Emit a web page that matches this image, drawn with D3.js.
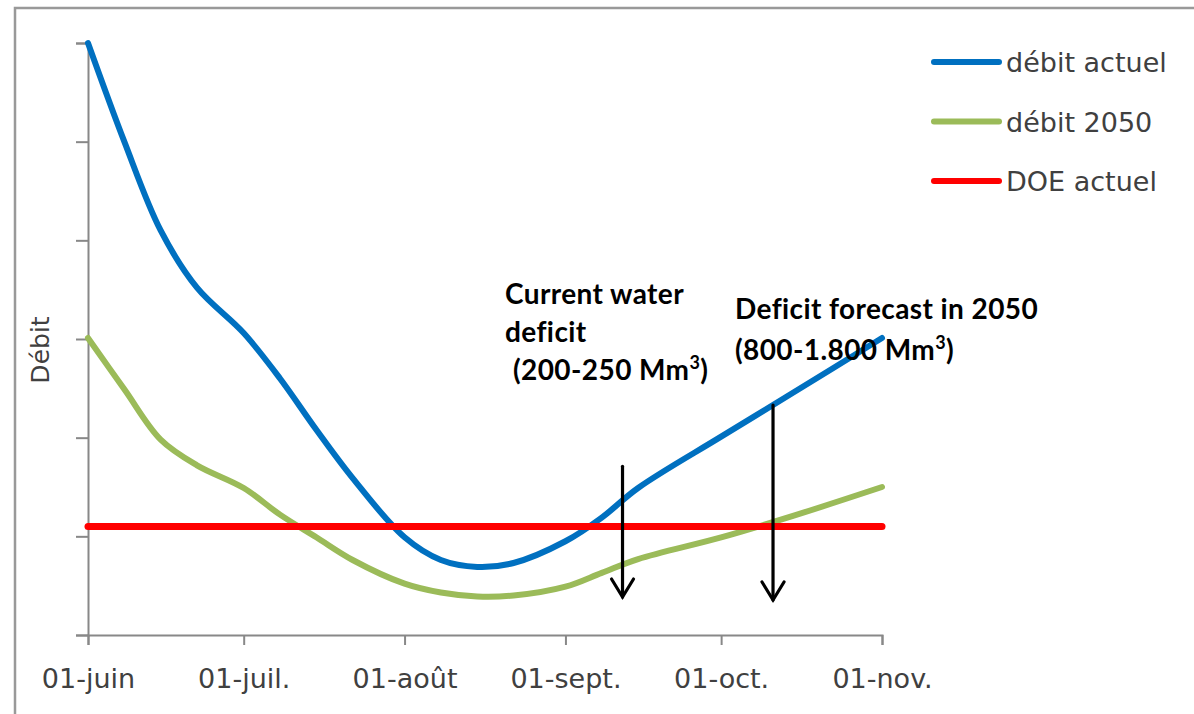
<!DOCTYPE html>
<html>
<head>
<meta charset="utf-8">
<script src="https://cdn.jsdelivr.net/npm/d3@7"></script>
<style>
  html, body { margin: 0; padding: 0; background: #fff; }
  svg { display: block; }
</style>
</head>
<body>
<svg id="chart" width="1194" height="714"></svg>
<script>
// ---- data ----
const dates = ["2013-06-01","2013-06-08","2013-06-15","2013-06-22","2013-07-01","2013-07-08",
               "2013-07-15","2013-07-22","2013-08-01","2013-08-08","2013-08-15","2013-08-22",
               "2013-09-01","2013-09-08","2013-09-15","2013-10-01","2013-10-15","2013-11-01"];
const debitActuel = [6.00, 5.00, 4.10, 3.52, 3.06, 2.60, 2.08, 1.59, 0.99, 0.76, 0.69, 0.73,
                     0.95, 1.19, 1.49, 2.01, 2.46, 3.01];
const debit2050   = [3.01, 2.49, 1.98, 1.72, 1.49, 1.22, 0.99, 0.76, 0.52, 0.43, 0.39, 0.40,
                     0.49, 0.63, 0.77, 0.99, 1.21, 1.50];
const doeActuel   = [1.10, 1.10];
const doeDates    = ["2013-06-01","2013-11-01"];
const tickDates   = ["2013-06-01","2013-07-01","2013-08-01","2013-09-01","2013-10-01","2013-11-01"];
const tickLabels  = ["01-juin","01-juil.","01-août","01-sept.","01-oct.","01-nov."];
const yTicks      = [0, 1, 2, 3, 4, 5, 6];
const seriesNames = ["débit actuel", "débit 2050", "DOE actuel"];
const seriesColors = ["#0070C0", "#9BBB59", "#FF0000"];
// deficit arrows: date, from value, to value
const arrowDates = ["2013-09-12", "2013-10-11"];
const arrowFrom  = [1.71, 2.33];
const arrowTo    = [0.385, 0.355];

const parse = d3.utcParse("%Y-%m-%d");
const baseFont = "'DejaVu Sans', Verdana, sans-serif";

const svg = d3.select("#chart");

// outer frame
svg.append("rect")
  .attr("x", 15).attr("y", 8)
  .attr("width", 1200).attr("height", 720)
  .attr("fill", "none").attr("stroke", "#999").attr("stroke-width", 2.5);

const x = d3.scaleUtc()
  .domain([parse(tickDates[0]), parse(tickDates[tickDates.length - 1])])
  .range([88, 882]);
const y = d3.scaleLinear().domain([0, 6]).range([635, 43]);

// axes
const axisColor = "#888";
const xAxis = d3.axisBottom(x)
  .tickValues(tickDates.map(parse))
  .tickFormat((d, i) => tickLabels[i])
  .tickSize(10).tickPadding(24);
const gx = svg.append("g").attr("transform", "translate(0,635)").call(xAxis);
gx.attr("font-family", baseFont).attr("font-size", 27);
gx.select(".domain").attr("stroke", axisColor).attr("stroke-width", 2);
gx.selectAll(".tick line").attr("stroke", axisColor).attr("stroke-width", 2);
gx.selectAll(".tick text").attr("fill", "#404040");

const yAxis = d3.axisLeft(y).tickValues(yTicks).tickFormat("").tickSize(12);
const gy = svg.append("g").attr("transform", "translate(88,0)").call(yAxis);
gy.select(".domain").attr("stroke", axisColor).attr("stroke-width", 2);
gy.selectAll(".tick line").attr("stroke", axisColor).attr("stroke-width", 2);

// y title
svg.append("text")
  .attr("transform", "translate(49,350) rotate(-90)")
  .attr("text-anchor", "middle")
  .attr("font-family", baseFont)
  .attr("font-size", 25).attr("fill", "#404040")
  .text("Débit");

// series
const line = d3.line()
  .x(d => x(d[0])).y(d => y(d[1]))
  .curve(d3.curveCatmullRom.alpha(0.5));

const series = [
  dates.map((d, i) => [parse(d), debitActuel[i]]),
  dates.map((d, i) => [parse(d), debit2050[i]]),
  doeDates.map((d, i) => [parse(d), doeActuel[i]])
];
const widths = [6, 6, 7];

series.forEach((s, i) => {
  svg.append("path")
    .datum(s)
    .attr("d", line)
    .attr("fill", "none")
    .attr("stroke", seriesColors[i])
    .attr("stroke-width", widths[i])
    .attr("stroke-linecap", "round")
    .attr("stroke-linejoin", "round");
});

// legend
const legend = svg.append("g").attr("font-family", baseFont).attr("font-size", 27);
seriesNames.forEach((name, i) => {
  const ly = 62 + i * 59.5;
  legend.append("line")
    .attr("x1", 934).attr("x2", 999).attr("y1", ly).attr("y2", ly)
    .attr("stroke", seriesColors[i]).attr("stroke-width", 6)
    .attr("stroke-linecap", "round");
  legend.append("text")
    .attr("x", 1006).attr("y", ly + 10)
    .attr("fill", "#404040")
    .text(name);
});

// arrows
arrowDates.forEach((d, i) => {
  const ax = x(parse(d));
  const y1 = y(arrowFrom[i]), y2 = y(arrowTo[i]);
  const g = svg.append("g")
    .attr("stroke", "#000").attr("stroke-width", 3.2).attr("fill", "none")
    .attr("stroke-linecap", "round");
  g.append("line").attr("x1", ax).attr("x2", ax).attr("y1", y1).attr("y2", y2);
  g.append("path")
    .attr("d", `M${ax - 11},${y2 - 18} L${ax},${y2} L${ax + 11},${y2 - 18}`)
    .attr("stroke-linejoin", "miter");
});

// annotations
const note = svg.append("g")
  .attr("font-family", "Lato, 'Open Sans', sans-serif")
  .attr("font-weight", 700).attr("font-size", 28)
  .attr("letter-spacing", 0.4).attr("fill", "#000");

note.append("text").attr("x", 505).attr("y", 304).text("Current water");
note.append("text").attr("x", 505).attr("y", 342).text("deficit");
const t3 = note.append("text").attr("x", 513).attr("y", 380);
t3.append("tspan").text("(200-250 Mm");
t3.append("tspan").attr("font-size", 18).attr("dy", -11).text("3");
t3.append("tspan").attr("dy", 11).text(")");

note.append("text").attr("x", 735).attr("y", 319).text("Deficit forecast in 2050");
const t5 = note.append("text").attr("x", 735).attr("y", 360);
t5.append("tspan").text("(800-1.800 Mm");
t5.append("tspan").attr("font-size", 18).attr("dy", -11).text("3");
t5.append("tspan").attr("dy", 11).text(")");
</script>
</body>
</html>
